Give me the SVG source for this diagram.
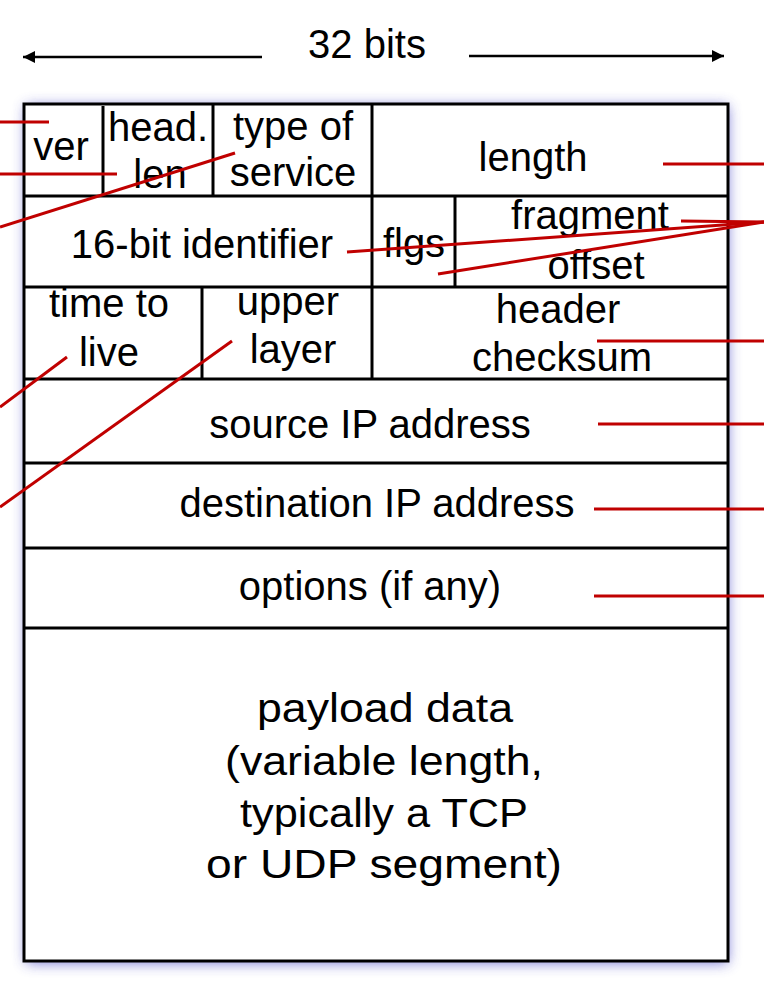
<svg xmlns="http://www.w3.org/2000/svg" width="764" height="988" viewBox="0 0 764 988">
  <style>
    text { font-family: "Liberation Sans", Arial, Helvetica, sans-serif; font-size: 40px; fill: #000; text-anchor: middle; }
    .grid { stroke: #000; stroke-width: 3; fill: none; }
    .red { stroke: #c00000; stroke-width: 3; fill: none; }
    .dim { stroke: #000; stroke-width: 2.5; fill: none; }
  </style>
  <defs>
    <filter id="glow" x="-15%" y="-15%" width="130%" height="130%">
      <feGaussianBlur stdDeviation="7"/>
    </filter>
    <marker id="arrow" markerUnits="userSpaceOnUse" markerWidth="14" markerHeight="14" refX="12" refY="6" orient="auto">
      <path d="M0,0 L12,6 L0,12 Z" fill="#000"/>
    </marker>
  </defs>
  <rect width="764" height="988" fill="#fff"/>

  <g id="width-label">
    <line class="dim" x1="262" y1="57" x2="23" y2="57" marker-end="url(#arrow)"/>
    <line class="dim" x1="469" y1="56" x2="724" y2="56" marker-end="url(#arrow)"/>
    <text x="367" y="58">32 bits</text>
  </g>

  <g id="datagram">
    <rect x="26" y="106" width="702" height="857" fill="#6a6ad0" opacity="0.9" filter="url(#glow)"/>
    <rect x="24" y="104" width="704" height="857" fill="#fff"/>
  </g>

  <g id="ver"><text x="61" y="160">ver</text></g>
  <g id="head-len"><text x="158" y="141">head.</text><text x="160" y="188">len</text></g>
  <g id="type-of-service"><text x="293" y="140">type of</text><text x="293" y="186">service</text></g>
  <g id="length"><text x="533" y="171">length</text></g>
  <g id="identifier"><text x="202" y="258">16-bit identifier</text></g>
  <g id="flgs"><text x="414" y="257">flgs</text></g>
  <g id="fragment-offset"><text x="590" y="229">fragment</text><text x="596" y="279">offset</text></g>
  <g id="time-to-live"><text x="109" y="317">time to</text><text x="109" y="366">live</text></g>
  <g id="upper-layer"><text x="288" y="315">upper</text><text x="293" y="363">layer</text></g>
  <g id="header-checksum"><text x="558" y="323">header</text><text x="562" y="371">checksum</text></g>
  <g id="source-ip"><text x="370" y="438">source IP address</text></g>
  <g id="destination-ip"><text x="377" y="517">destination IP address</text></g>
  <g id="options"><text x="370" y="600">options (if any)</text></g>
  <g id="payload">
    <text x="385" y="722" textLength="256" lengthAdjust="spacingAndGlyphs">payload data</text>
    <text x="384" y="775" textLength="318" lengthAdjust="spacingAndGlyphs">(variable length,</text>
    <text x="384" y="827" textLength="288" lengthAdjust="spacingAndGlyphs">typically a TCP</text>
    <text x="384" y="878" textLength="356" lengthAdjust="spacingAndGlyphs">or UDP segment)</text>
  </g>

  <g id="grid-lines">
    <rect class="grid" x="24" y="104" width="704" height="857"/>
    <line class="grid" x1="24" y1="196" x2="728" y2="196"/>
    <line class="grid" x1="24" y1="287" x2="728" y2="287"/>
    <line class="grid" x1="24" y1="379" x2="728" y2="379"/>
    <line class="grid" x1="24" y1="463" x2="728" y2="463"/>
    <line class="grid" x1="24" y1="548" x2="728" y2="548"/>
    <line class="grid" x1="24" y1="628" x2="728" y2="628"/>
    <line class="grid" x1="103" y1="106" x2="103" y2="194"/>
    <line class="grid" x1="213" y1="104" x2="213" y2="196"/>
    <line class="grid" x1="372" y1="104" x2="372" y2="287"/>
    <line class="grid" x1="455" y1="196" x2="455" y2="287"/>
    <line class="grid" x1="202" y1="287" x2="202" y2="379"/>
    <line class="grid" x1="372" y1="287" x2="372" y2="379"/>
  </g>

  <g id="connectors">
    <line class="red" x1="0" y1="122" x2="49" y2="122"/>
    <line class="red" x1="0" y1="174" x2="117" y2="174"/>
    <line class="red" x1="0" y1="227" x2="235" y2="153"/>
    <line class="red" x1="663" y1="164" x2="764" y2="164"/>
    <line class="red" x1="347" y1="252" x2="764" y2="222"/>
    <line class="red" x1="681" y1="221" x2="764" y2="222"/>
    <line class="red" x1="438" y1="274" x2="764" y2="222"/>
    <line class="red" x1="67" y1="357" x2="0" y2="407"/>
    <line class="red" x1="232" y1="341" x2="0" y2="507"/>
    <line class="red" x1="597" y1="341" x2="764" y2="341"/>
    <line class="red" x1="598" y1="424" x2="764" y2="424"/>
    <line class="red" x1="594" y1="509" x2="764" y2="509"/>
    <line class="red" x1="594" y1="596" x2="764" y2="596"/>
  </g>
</svg>
